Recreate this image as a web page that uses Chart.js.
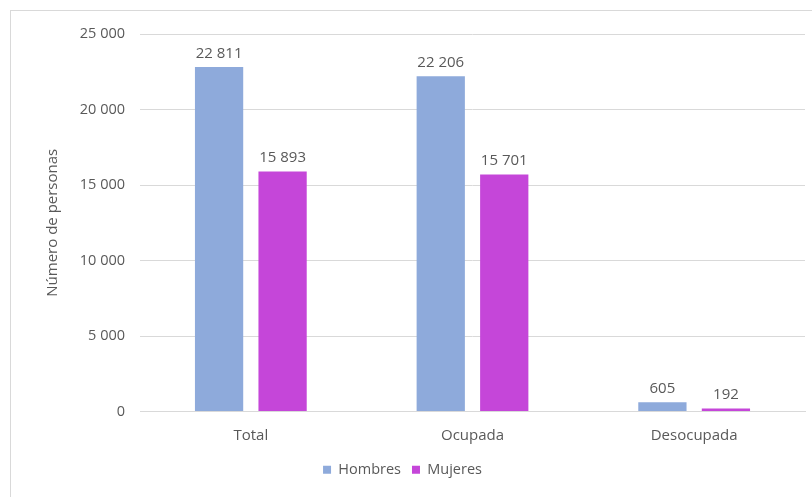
<!DOCTYPE html>
<html><head><meta charset="utf-8">
<script src="https://cdn.jsdelivr.net/npm/chart.js@4/dist/chart.umd.min.js"></script>
<style>
html,body{margin:0;padding:0;background:#fff;width:812px;height:497px;overflow:hidden;}
#frame{position:absolute;left:10px;top:10px;width:900px;height:500px;border:1px solid #d9d9d9;box-sizing:border-box;}
#wrap{position:absolute;left:0;top:0;width:812px;height:497px;}
</style></head><body>
<div id="frame"></div>
<div id="wrap"><canvas id="c" width="812" height="497"></canvas></div>
<script>
const categories = ["Total", "Ocupada", "Desocupada"];
const hombres = [22811, 22206, 605];
const mujeres = [15893, 15701, 192];
const yTicks = [0, 5000, 10000, 15000, 20000, 25000];
const seriesNames = ["Hombres", "Mujeres"];

const fmt = v => String(v).replace(/\B(?=(\d{3})+(?!\d))/g, " ");
const FONT = "'Open Sans', sans-serif";

const labelPlugin = {
  id: 'labels',
  afterDatasetsDraw(chart) {
    const ctx = chart.ctx;
    ctx.save();
    ctx.font = "15px " + FONT;
    ctx.fillStyle = "#595959";
    ctx.textAlign = "center";
    ctx.textBaseline = "bottom";
    chart.data.datasets.forEach((ds, i) => {
      chart.getDatasetMeta(i).data.forEach((el, j) => {
        ctx.fillText(fmt(ds.data[j]), el.x, el.y - 6);
      });
    });
    ctx.restore();
  }
};

new Chart(document.getElementById('c'), {
  type: 'bar',
  data: {
    labels: categories,
    datasets: [
      { label: seriesNames[0], data: hombres, backgroundColor: "#8eaadb" },
      { label: seriesNames[1], data: mujeres, backgroundColor: "#c546d9" }
    ]
  },
  options: {
    responsive: false,
    animation: false,
    devicePixelRatio: 1,
    categoryPercentage: 0.573,
    barPercentage: 0.76,
    layout: { padding: { left: 0, right: 7, top: 34, bottom: 10 } },
    plugins: {
      legend: {
        position: 'bottom',
        labels: { boxWidth: 8, boxHeight: 8, font: { size: 14.5, family: FONT }, color: "#595959", padding: 11 }
      },
      tooltip: { enabled: false }
    },
    scales: {
      x: {
        grid: { display: false },
        border: { color: "#d9d9d9" },
        ticks: { font: { size: 15, family: FONT }, color: "#595959", padding: 7 }
      },
      y: {
        min: 0, max: 25000,
        afterBuildTicks: s => { s.ticks = yTicks.map(v => ({ value: v })); },
        afterFit: s => { s.width = 140; },
        grid: { color: "#d9d9d9", drawTicks: false },
        border: { display: false },
        ticks: { font: { size: 14.5, family: FONT }, color: "#595959", padding: 15, callback: v => fmt(v) },
        title: { display: true, text: "Número de personas", font: { size: 15, family: FONT }, color: "#595959", padding: { top: 44, bottom: 12 } }
      }
    }
  },
  plugins: [labelPlugin]
});
</script>
</body></html>
